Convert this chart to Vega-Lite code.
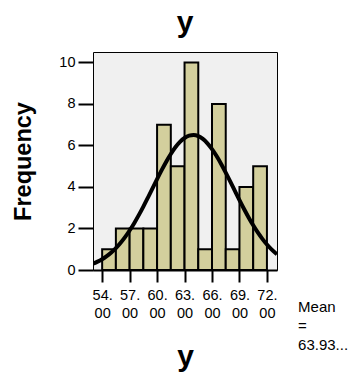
{
  "$schema": "https://vega.github.io/schema/vega-lite/v6.json",
  "width": 184,
  "height": 218,
  "autosize": "none",
  "padding": {"left": 93, "top": 52, "right": 73, "bottom": 103},
  "title": {"text": "y", "fontSize": 30, "font": "Liberation Sans", "fontWeight": "bold", "anchor": "middle", "offset": 14, "color": "black"},
  "config": {
    "view": {"fill": "#f0f0f0", "stroke": "black", "strokeWidth": 1},
    "axis": {"labelFont": "Liberation Sans", "titleFont": "Liberation Sans", "labelColor": "black", "titleColor": "black", "tickColor": "black", "domainColor": "black", "grid": false}
  },
  "datasets": {
    "bins": [
      {"bin_start": 54.0, "bin_end": 55.5, "count": 1},
      {"bin_start": 55.5, "bin_end": 57.0, "count": 2},
      {"bin_start": 57.0, "bin_end": 58.5, "count": 2},
      {"bin_start": 58.5, "bin_end": 60.0, "count": 2},
      {"bin_start": 60.0, "bin_end": 61.5, "count": 7},
      {"bin_start": 61.5, "bin_end": 63.0, "count": 5},
      {"bin_start": 63.0, "bin_end": 64.5, "count": 10},
      {"bin_start": 64.5, "bin_end": 66.0, "count": 1},
      {"bin_start": 66.0, "bin_end": 67.5, "count": 8},
      {"bin_start": 67.5, "bin_end": 69.0, "count": 1},
      {"bin_start": 69.0, "bin_end": 70.5, "count": 4},
      {"bin_start": 70.5, "bin_end": 72.0, "count": 5}
    ],
    "curve": [
      {"x": 53.0, "f": 0.305}, {"x": 53.5, "f": 0.402}, {"x": 54.0, "f": 0.521}, {"x": 54.5, "f": 0.668},
      {"x": 55.0, "f": 0.845}, {"x": 55.5, "f": 1.054}, {"x": 56.0, "f": 1.300}, {"x": 56.5, "f": 1.582},
      {"x": 57.0, "f": 1.902}, {"x": 57.5, "f": 2.256}, {"x": 58.0, "f": 2.643}, {"x": 58.5, "f": 3.056},
      {"x": 59.0, "f": 3.490}, {"x": 59.5, "f": 3.933}, {"x": 60.0, "f": 4.378}, {"x": 60.5, "f": 4.810},
      {"x": 61.0, "f": 5.218}, {"x": 61.5, "f": 5.588}, {"x": 62.0, "f": 5.909}, {"x": 62.5, "f": 6.169},
      {"x": 63.0, "f": 6.358}, {"x": 63.5, "f": 6.469}, {"x": 64.0, "f": 6.499}, {"x": 64.5, "f": 6.446},
      {"x": 65.0, "f": 6.312}, {"x": 65.5, "f": 6.102}, {"x": 66.0, "f": 5.825}, {"x": 66.5, "f": 5.489},
      {"x": 67.0, "f": 5.107}, {"x": 67.5, "f": 4.690}, {"x": 68.0, "f": 4.254}, {"x": 68.5, "f": 3.808},
      {"x": 69.0, "f": 3.366}, {"x": 69.5, "f": 2.938}, {"x": 70.0, "f": 2.531}, {"x": 70.5, "f": 2.153},
      {"x": 71.0, "f": 1.808}, {"x": 71.5, "f": 1.500}, {"x": 72.0, "f": 1.227}, {"x": 72.5, "f": 0.992},
      {"x": 73.0, "f": 0.792}, {"x": 73.1, "f": 0.755}
    ],
    "note": [{"text": "Mean\n=\n63.93...", "px": 75.4, "py": -1.45}]
  },
  "layer": [
    {
      "data": {"name": "bins"},
      "mark": {"type": "bar", "fill": "#d3cf9d", "stroke": "black", "strokeWidth": 2},
      "encoding": {
        "x": {"field": "bin_start", "type": "quantitative",
          "scale": {"domain": [53, 73.1], "nice": false, "zero": false},
          "axis": {"values": [54, 57, 60, 63, 66, 69, 72], "tickCount": 20, "title": "y", "titleFontSize": 30, "titleFontWeight": "bold",
            "titleBaseline": "alphabetic", "titleY": 95, "labelOverlap": false, "labelBound": false, "labelFlush": false,
            "labelExpr": "[format(datum.value, '.0f') + '.', '00']", "labelFontSize": 14.5, "labelLineHeight": 18,
            "labelPadding": 6, "tickSize": 12, "tickWidth": 2, "domain": true, "domainWidth": 2}},
        "x2": {"field": "bin_end"},
        "y": {"field": "count", "type": "quantitative",
          "scale": {"domain": [0, 10.5], "nice": false},
          "axis": {"values": [0, 2, 4, 6, 8, 10], "tickCount": 20, "format": "d", "title": "Frequency", "titleFontSize": 23.5, "titleFontWeight": "bold",
            "titleX": -70, "titleBaseline": "middle", "labelFontSize": 14.5, "labelPadding": 3, "tickSize": 15, "tickWidth": 2, "domain": false}},
        "y2": {"datum": 0}
      }
    },
    {
      "data": {"name": "curve"},
      "mark": {"type": "line", "color": "black", "strokeWidth": 4, "interpolate": "monotone", "clip": true},
      "encoding": {
        "x": {"field": "x", "type": "quantitative"},
        "y": {"field": "f", "type": "quantitative"}
      }
    },
    {
      "data": {"name": "note"},
      "mark": {"type": "text", "align": "left", "baseline": "top", "lineBreak": "\n", "lineHeight": 19, "fontSize": 15, "font": "Liberation Sans", "color": "black", "clip": false},
      "encoding": {
        "x": {"field": "px", "type": "quantitative"},
        "y": {"field": "py", "type": "quantitative"},
        "text": {"field": "text"}
      }
    }
  ]
}
